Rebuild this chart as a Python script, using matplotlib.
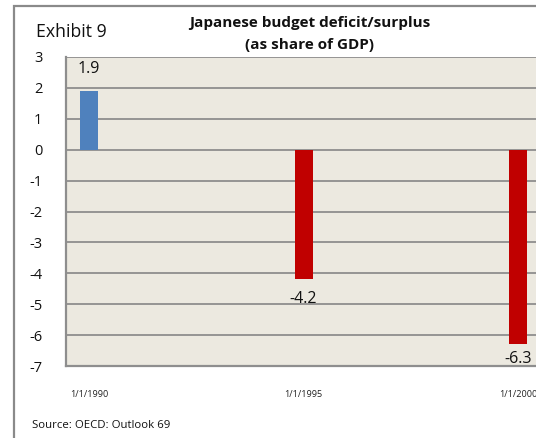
import matplotlib
matplotlib.use("Agg")
import matplotlib.pyplot as plt
from matplotlib.patches import Rectangle

plt.rcParams['font.family'] = ['Open Sans', 'DejaVu Sans']
plt.rcParams['axes.unicode_minus'] = False

# Data
years = [1990, 1995, 2000]
tick_labels = ["1/1/1990", "1/1/1995", "1/1/2000"]
balance = [1.9, -4.2, -6.3]

title_lines = ["Japanese budget deficit/surplus", "(as share of GDP)"]
exhibit = "Exhibit 9"
source = "Source: OECD: Outlook 69"

W, H = 536, 438
fig = plt.figure(figsize=(W / 100, H / 100), dpi=100)
fig.patch.set_facecolor("white")

# Outer frame (only left and top edges fall inside the canvas)
fig.patches.append(Rectangle((14 / W, -0.1), 1.2, 1 - 6 / H + 0.1,
                             transform=fig.transFigure, fill=False,
                             edgecolor="#8a8a8a", linewidth=1.6))

ax = fig.add_axes([66 / W, 1 - 366 / H, 1 - 66 / W, (366 - 57) / H])
ax.set_facecolor("#ECE9E0")

colors = ["#4F81BD" if v >= 0 else "#C00000" for v in balance]
ax.bar(years, balance, width=0.42, color=colors, zorder=3)

ax.set_ylim(-7, 3)
ax.set_yticks(range(-7, 4))
ax.set_xlim(1989.46, 2000.42)
ax.set_xticks(years)
ax.set_xticklabels(tick_labels, fontsize=6.6)
ax.tick_params(axis="x", length=0, pad=17, colors="#222222")
ax.tick_params(axis="y", length=0, pad=17, labelsize=10.5, colors="#111111")
for lab in ax.get_yticklabels():
    lab.set_horizontalalignment("right")

ax.grid(axis="y", color="#8e8e8e", linewidth=1.3, zorder=1)
for s in ("top", "right"):
    ax.spines[s].set_visible(False)
for s in ("left", "bottom"):
    ax.spines[s].set_color("#8e8e8e")
    ax.spines[s].set_linewidth(1.6)

# Value labels
offsets = [14, -12, -7]
for x, v, off in zip(years, balance, offsets):
    ax.annotate(f"{v:.1f}", (x, v), xytext=(0, off), textcoords="offset pixels",
                ha="center", va="bottom" if v >= 0 else "top",
                fontsize=11.5, color="#111111", zorder=4)

fig.text(309.5 / W, 1 - 23 / H, title_lines[0], ha="center", va="center",
         fontsize=11, fontweight="bold", color="#111111")
fig.text(309.5 / W, 1 - 45 / H, title_lines[1], ha="center", va="center",
         fontsize=11, fontweight="bold", color="#111111")
fig.text(36 / W, 1 - 32 / H, exhibit, ha="left", va="center",
         fontsize=12.7, color="#111111")
fig.text(32 / W, 1 - 425 / H, source, ha="left", va="center",
         fontsize=8.2, color="#111111")

fig.savefig("out.png", dpi=100)
